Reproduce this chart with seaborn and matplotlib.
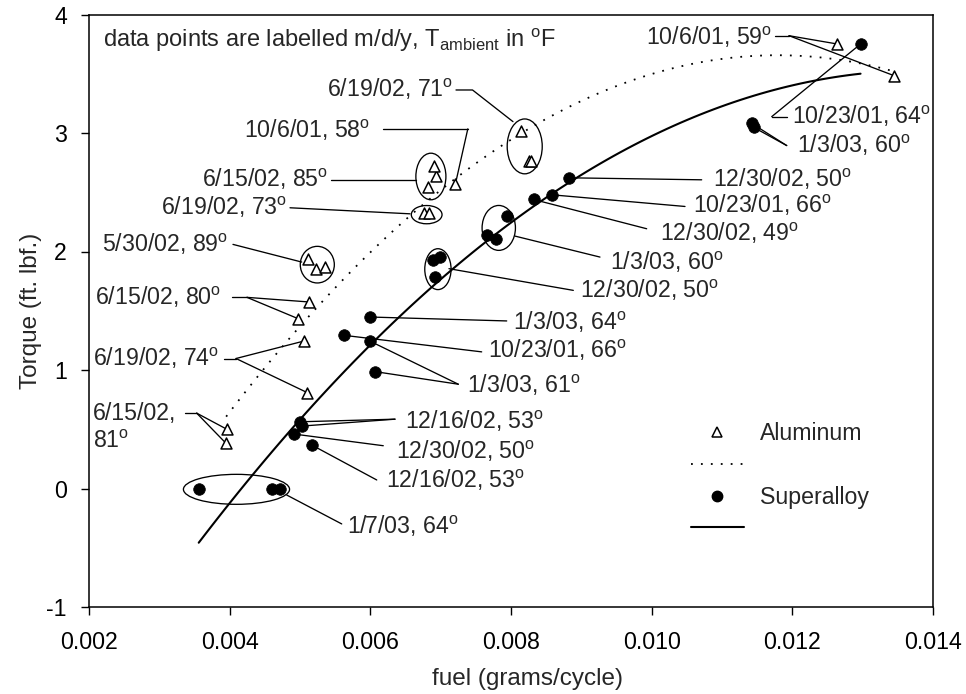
import matplotlib
matplotlib.use("Agg")
import matplotlib.pyplot as plt
from matplotlib.patches import Ellipse
from matplotlib.lines import Line2D
import seaborn as sns

# ---- measured runs -------------------------------------------------------
# Aluminum piston
alum_fuel = [0.00396, 0.00395, 0.00510, 0.00506, 0.00497, 0.00513, 0.00512,
             0.00523, 0.00536, 0.00677, 0.00684, 0.00682, 0.00693, 0.00691,
             0.00721, 0.00814, 0.00825, 0.00829, 0.01264, 0.01345]
alum_torque = [0.50, 0.38, 0.81, 1.245, 1.434, 1.574, 1.939,
               1.855, 1.869, 2.323, 2.323, 2.548, 2.641, 2.725,
               2.571, 3.020, 2.762, 2.762, 3.751, 3.483]

# Superalloy piston
sup_fuel = [0.00356, 0.00460, 0.00471, 0.00500, 0.00503, 0.00492, 0.00517,
            0.00606, 0.00599, 0.00562, 0.00600, 0.00692, 0.00689, 0.00699,
            0.00766, 0.00778, 0.00795, 0.00832, 0.00859, 0.00882, 0.01142,
            0.01145, 0.01297]
sup_torque = [0.0, 0.0, 0.0, 0.563, 0.527, 0.459, 0.366,
              0.987, 1.245, 1.293, 1.447, 1.784, 1.925, 1.953,
              2.136, 2.108, 2.296, 2.439, 2.478, 2.622, 3.082,
              3.048, 3.751]

x_ticks = [0.002, 0.004, 0.006, 0.008, 0.010, 0.012, 0.014]
x_tick_labels = ["0.002", "0.004", "0.006", "0.008", "0.010", "0.012", "0.014"]
y_ticks = [-1, 0, 1, 2, 3, 4]
y_tick_labels = ["-1", "0", "1", "2", "3", "4"]

series_names = ["Aluminum", "Superalloy"]

# ---- run labels (date, ambient temperature in F) ---------------------------
# each entry: date, temp, series, indices of the labelled points,
# text anchor, alignment, leader path (the last vertex fans out to the points)
run_labels = [
    ("10/6/01", 59, "al", [18, 19], (0.011711, 3.804), "right",
     [(0.011754, 3.821), (0.011953, 3.821)]),
    ("6/19/02", 71, "al", [], (0.007184, 3.372), "right",
     [(0.007218, 3.363), (0.007453, 3.363), (0.008028, 3.096)]),
    ("10/6/01", 58, "al", [14], (0.006004, 3.026), "right",
     [(0.006173, 3.035), (0.007386, 3.035)]),
    ("6/15/02", 85, "al", [], (0.005398, 2.607), "right",
     [(0.005441, 2.607), (0.006644, 2.607)]),
    ("6/19/02", 73, "al", [], (0.004825, 2.374), "right",
     [(0.004858, 2.369), (0.006564, 2.318)]),
    ("5/30/02", 89, "al", [], (0.003976, 2.056), "right",
     [(0.004047, 2.060), (0.005024, 1.911)]),
    ("6/15/02", 80, "al", [5, 4], (0.003877, 1.616), "right",
     [(0.004033, 1.613), (0.004246, 1.613)]),
    ("6/19/02", 74, "al", [3, 2], (0.003848, 1.097), "right",
     [(0.003919, 1.097), (0.004090, 1.097)]),
    ("12/16/02", 53, "su", [3, 4], (0.006493, 0.563), "left",
     [(0.006351, 0.585)]),
    ("12/30/02", 50, "su", [5], (0.006365, 0.310), "left",
     [(0.006184, 0.361)]),
    ("12/16/02", 53, "su", [6], (0.006223, 0.072), "left",
     [(0.006091, 0.072)]),
    ("1/7/03", 64, "su", [], (0.005664, -0.322), "left",
     [(0.005593, -0.299), (0.004811, -0.055)]),
    ("1/3/03", 61, "su", [8, 7], (0.007370, 0.872), "left",
     [(0.007251, 0.880)]),
    ("10/23/01", 66, "su", [9], (0.007677, 1.167), "left",
     [(0.007583, 1.153)]),
    ("1/3/03", 64, "su", [10], (0.008024, 1.405), "left",
     [(0.007939, 1.414)]),
    ("12/30/02", 50, "su", [], (0.008981, 1.672), "left",
     [(0.008886, 1.672), (0.007118, 1.855)]),
    ("1/3/03", 60, "su", [], (0.009408, 1.911), "left",
     [(0.009265, 1.953), (0.008057, 2.130)]),
    ("12/30/02", 49, "su", [17], (0.010118, 2.150), "left",
     [(0.009929, 2.192)]),
    ("10/23/01", 66, "su", [18], (0.010592, 2.388), "left",
     [(0.010474, 2.380)]),
    ("12/30/02", 50, "su", [19], (0.010876, 2.605), "left",
     [(0.010711, 2.605)]),
    ("1/3/03", 60, "su", [20, 21], (0.012071, 2.894), "left",
     [(0.011920, 2.894)]),
    ("10/23/01", 64, "su", [22], (0.011991, 3.138), "left",
     [(0.011920, 3.138), (0.011707, 3.138)]),
]

# the lowest aluminum pair carries a label broken over two lines
split_label = ("6/15/02", 81, "al", [0, 1], (0.002061, 0.636, 0.394),
               [(0.003365, 0.636), (0.003531, 0.636)])

# groups of repeated runs circled on the chart: centre, width, height
run_groups = [
    ((0.006861, 2.633), 0.000427, 0.393),
    ((0.006801, 2.311), 0.000437, 0.154),
    ((0.005246, 1.889), 0.000484, 0.309),
    ((0.008195, 2.887), 0.000498, 0.463),
    ((0.006961, 1.851), 0.000374, 0.345),
    ((0.007826, 2.199), 0.000474, 0.379),
    ((0.004097, -0.007), 0.001509, 0.253),
]

# ---- style -----------------------------------------------------------------
sns.set_style("ticks")
plt.rcParams["font.family"] = ["Liberation Sans", "DejaVu Sans"]
plt.rcParams["mathtext.fontset"] = "custom"
plt.rcParams["mathtext.rm"] = "Liberation Sans"
plt.rcParams["mathtext.it"] = "Liberation Sans:italic"
plt.rcParams["mathtext.bf"] = "Liberation Sans:bold"

FS = 16.7
DEG = r"$^{\mathrm{o}}$"
LEADER = dict(color="black", lw=0.95, zorder=3)

fig = plt.figure(figsize=(9.66, 6.94), dpi=100)
ax = fig.add_axes([89 / 966, 1 - 607 / 694, 844 / 966, 592.5 / 694])

# quadratic trend lines
sns.regplot(x=alum_fuel, y=alum_torque, order=2, ci=None, scatter=False,
            truncate=True, ax=ax,
            line_kws=dict(color="black", lw=1.3, ls=(0, (1, 4.5))))
sns.regplot(x=sup_fuel, y=sup_torque, order=2, ci=None, scatter=False,
            truncate=True, ax=ax,
            line_kws=dict(color="black", lw=1.5))

# circled groups
for (cx, cy), w, h in run_groups:
    ax.add_patch(Ellipse((cx, cy), w, h, fill=False, ec="black", lw=0.95,
                         zorder=3))

# run labels with leader lines
pts = {"al": (alum_fuel, alum_torque), "su": (sup_fuel, sup_torque)}
for date, temp, ser, idx, (tx, ty), ha, path in run_labels:
    ax.text(tx, ty, f"{date}, {temp}{DEG}", ha=ha, va="center",
            fontsize=FS, zorder=5)
    px = [p[0] for p in path]
    py = [p[1] for p in path]
    if len(path) > 1:
        ax.plot(px, py, **LEADER)
    xs, ys = pts[ser]
    for i in idx:
        ax.plot([px[-1], xs[i]], [py[-1], ys[i]], **LEADER)

date, temp, ser, idx, (tx, ty1, ty2), path = split_label
ax.text(tx, ty1, f"{date},", ha="left", va="center", fontsize=FS, zorder=5)
ax.text(tx, ty2, f"{temp}{DEG}", ha="left", va="center", fontsize=FS,
        zorder=5)
ax.plot([p[0] for p in path], [p[1] for p in path], **LEADER)
xs, ys = pts[ser]
for i in idx:
    ax.plot([path[-1][0], xs[i]], [path[-1][1], ys[i]], **LEADER)

# data points
sns.scatterplot(x=alum_fuel, y=alum_torque, marker="^", s=62, color="white",
                edgecolor="black", linewidth=1.1, ax=ax, zorder=6)
sns.scatterplot(x=sup_fuel, y=sup_torque, marker="o", s=70, color="black",
                edgecolor="black", linewidth=0.5, ax=ax, zorder=6)

ax.text(0.0166, 0.957,
        r"data points are labelled m/d/y, T$_{\mathrm{ambient}}$ in "
        + DEG + "F", transform=ax.transAxes, ha="left", va="center",
        fontsize=17.0)

# legend: marker row then trend-line row for each material
handles = [
    Line2D([], [], ls="none", marker="^", ms=6.5, mfc="white", mec="black",
           mew=1.1),
    Line2D([], [], color="black", lw=1.3, ls=(0, (1, 4.5))),
    Line2D([], [], ls="none", marker="o", ms=7.5, color="black"),
    Line2D([], [], color="black", lw=1.5),
]
labels = [series_names[0], " ", series_names[1], " "]
ax.legend(handles, labels, loc="upper left",
          bbox_to_anchor=(691 / 966, 1 - 422 / 694),
          bbox_transform=fig.transFigure, frameon=False, fontsize=FS,
          handlelength=2.27, handletextpad=0.7, labelspacing=0.38,
          borderpad=0, borderaxespad=0)

# axes
ax.set_xlim(0.002, 0.014)
ax.set_ylim(-1, 4)
ax.set_xticks(x_ticks)
ax.set_xticklabels(x_tick_labels)
ax.set_yticks(y_ticks)
ax.set_yticklabels(y_tick_labels)
ax.tick_params(direction="out", length=6, width=1.0, labelsize=FS,
               top=False, right=False, colors="black")
ax.tick_params(axis="x", pad=11)
ax.tick_params(axis="y", pad=10)
for sp in ax.spines.values():
    sp.set_visible(True)
    sp.set_linewidth(1.1)
    sp.set_color("black")
ax.set_xlabel("fuel (grams/cycle)", fontsize=17.5)
ax.set_ylabel("Torque (ft. lbf.)", fontsize=17.5)
ax.xaxis.set_label_coords((527 - 89) / 844, (607 - 679) / 592.5)
ax.xaxis.label.set_va("center")
ax.yaxis.set_label_coords((31 - 89) / 844, 0.5)
ax.yaxis.label.set_va("center")

fig.savefig("out.png", dpi=100)
